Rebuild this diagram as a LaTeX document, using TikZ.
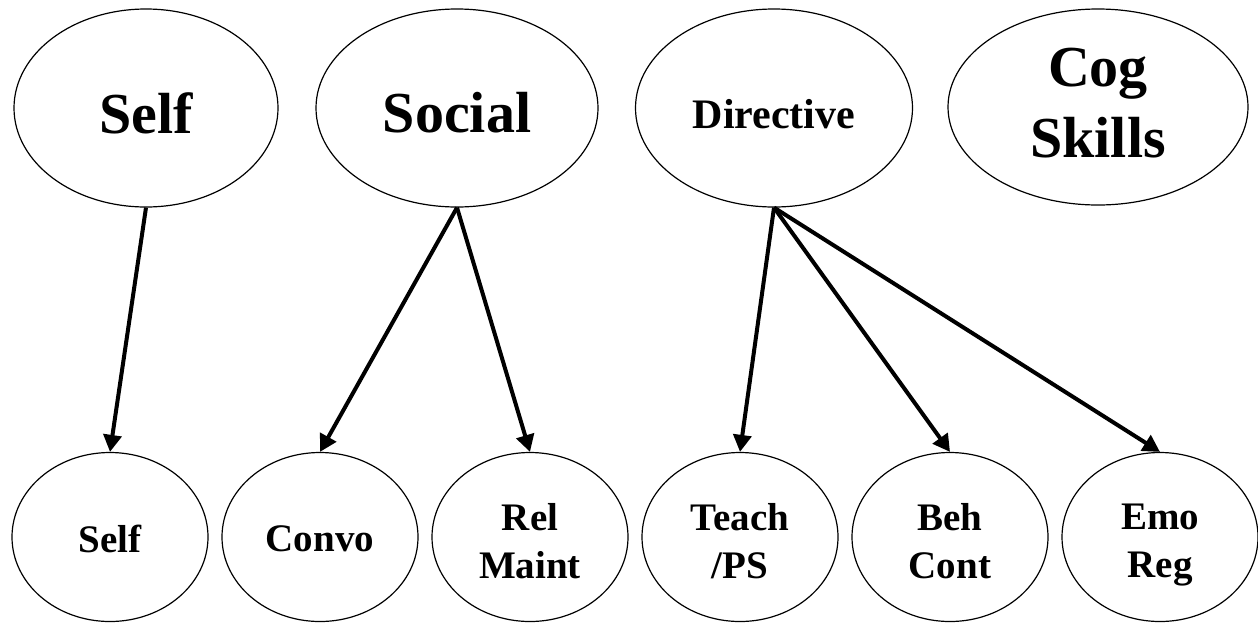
\documentclass[tikz,border=0pt]{standalone}
\usepackage{fontspec}
\setmainfont{Liberation Serif}
\usetikzlibrary{shapes.geometric,arrows.meta}
\tikzset{
  oval/.style={ellipse, draw=black, line width=1.2pt, inner sep=0pt},
  topov/.style={oval, minimum height=198pt},
  botov/.style={oval, minimum width=196pt, minimum height=169pt},
  lbl/.style={inner sep=0pt, align=center, font=\bfseries},
  biglbl/.style={lbl, font=\fontsize{58pt}{71pt}\selectfont\bfseries},
  midlbl/.style={lbl, font=\fontsize{42pt}{50pt}\selectfont\bfseries},
  smalllbl/.style={lbl, font=\fontsize{39pt}{48pt}\selectfont\bfseries},
  arr/.style={line width=4pt, -{Triangle[length=17pt,width=18pt]}}
}
\begin{document}
\begin{tikzpicture}[x=1pt,y=-1pt]
\useasboundingbox (0,0) rectangle (1258,622);
% top row
\node[topov, minimum width=264pt, label={[biglbl, yshift=-5pt]center:Self}] (tself) at (146,108) {};
\node[topov, minimum width=282pt, label={[biglbl, yshift=-5pt]center:Social}] (tsocial) at (457,108) {};
\node[topov, minimum width=277pt, label={[midlbl, yshift=-6pt]center:Directive}] (tdir) at (774,108) {};
\node[topov, minimum width=300pt, minimum height=196pt, label={[biglbl, yshift=4pt]center:{Cog\\Skills}}] (tcog) at (1098,107) {};
% bottom row
\node[botov, label={[smalllbl, yshift=-2pt]center:Self}] (bself) at (110,537) {};
\node[botov, label={[smalllbl, yshift=-2pt]center:Convo}] (bconvo) at (320,537) {};
\node[botov, label={[smalllbl, yshift=-4pt]center:{Rel\\Maint}}] (brel) at (530,537) {};
\node[botov, label={[smalllbl, yshift=-4pt]center:{Teach\\/PS}}] (bteach) at (740,537) {};
\node[botov, label={[smalllbl, yshift=-4pt]center:{Beh\\Cont}}] (bbeh) at (950,537) {};
\node[botov, label={[smalllbl, yshift=-8pt]center:{Emo\\Reg}}] (bemo) at (1160,537) {};
% connectors
\draw[arr] (tself.south) -- (bself.north);
\draw[arr] (tsocial.south) -- (bconvo.north);
\draw[arr] (tsocial.south) -- (brel.north);
\draw[arr] (tdir.south) -- (bteach.north);
\draw[arr] (tdir.south) -- (bbeh.north);
\draw[arr] (tdir.south) -- (bemo.north);
\end{tikzpicture}
\end{document}
